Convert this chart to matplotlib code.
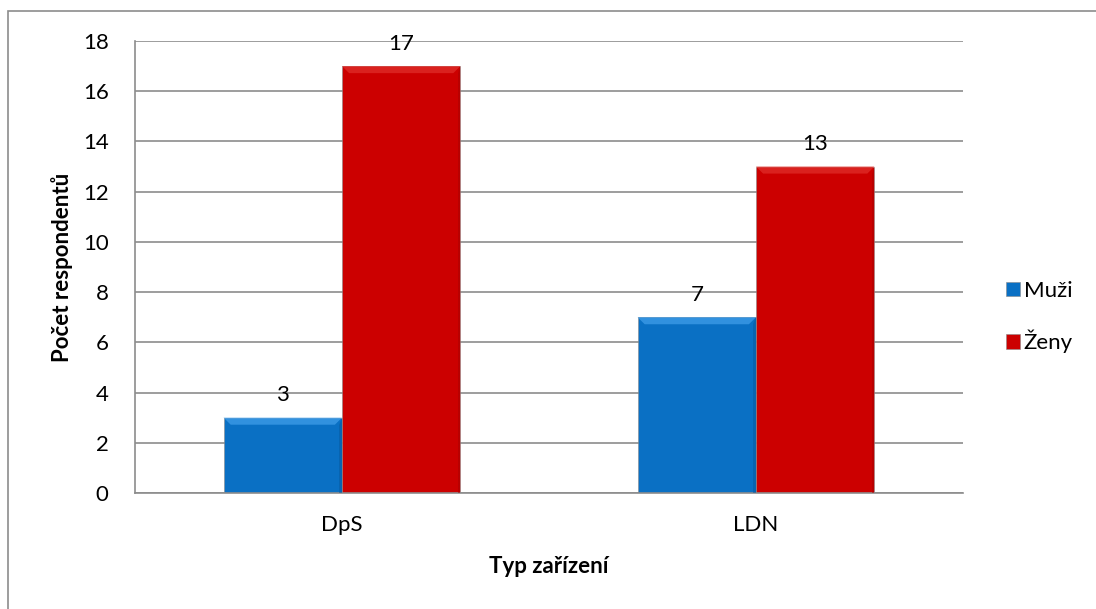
import matplotlib.pyplot as plt
from matplotlib.patches import Rectangle, Polygon
import numpy as np

# data
kategorie = ['DpS', 'LDN']
muzi = [3, 7]
zeny = [17, 13]
serie = ['Muži', 'Ženy']

plt.rcParams['font.family'] = ['Lato', 'DejaVu Sans']
fs = 16

fig = plt.figure(figsize=(10.96, 6.09), dpi=100)
# outer chart frame
fig.patches.append(Rectangle((8 / 1096, -0.05), 1.2, 1 - 11 / 609 + 0.05,
                             transform=fig.transFigure, fill=False,
                             edgecolor='#8c8c8c', linewidth=1.2))

ax = fig.add_axes([135 / 1096, 1 - 493 / 609, (963 - 135) / 1096, (493 - 41) / 609])

x = np.arange(len(kategorie))
w = 0.286
barvy = [('#0a70c4', '#3c9ae6', '#075a9e'), ('#cc0000', '#de2a26', '#a80000')]


def bevel(ax, rect, light, dark):
    # lighter top/left and darker right edges for a soft bevel
    x0, y0 = rect.get_x(), rect.get_y()
    bw, bh = rect.get_width(), rect.get_height()
    dx = bw * 0.06
    dy = 0.28
    x1, y1 = x0 + bw, y0 + bh
    ax.add_patch(Polygon([(x0, y1), (x1, y1), (x1 - dx, y1 - dy), (x0 + dx, y1 - dy)],
                         facecolor=light, edgecolor='none', alpha=0.8, zorder=3))
    ax.add_patch(Polygon([(x1, y1), (x1, y0), (x1 - dx * 0.4, y0), (x1 - dx * 0.4, y1 - dy)],
                         facecolor=dark, edgecolor='none', alpha=0.5, zorder=3))


for vals, off, (c, light, dark), lab in zip([muzi, zeny], [-w / 2, w / 2], barvy, serie):
    bars = ax.bar(x + off, vals, w, color=c, label=lab, zorder=2,
                  edgecolor='#8a8a8a', linewidth=0.4)
    for r, v in zip(bars, vals):
        bevel(ax, r, light, dark)
        ax.text(r.get_x() + r.get_width() / 2, v + 0.5, str(v),
                ha='center', va='bottom', fontsize=fs)

ax.set_xlim(-0.5, 1.5)
ax.set_ylim(0, 18)
ax.set_yticks(range(0, 19, 2))
ax.set_xticks(x)
ax.set_xticklabels(kategorie)
ax.tick_params(length=0, labelsize=fs)
ax.tick_params(axis='x', pad=16)
ax.tick_params(axis='y', pad=19)
ax.grid(axis='y', color='#8c8c8c', linewidth=1.2, zorder=0)
ax.set_axisbelow(True)
for s in ['top', 'right']:
    ax.spines[s].set_visible(False)
for s in ['left', 'bottom']:
    ax.spines[s].set_color('#8c8c8c')
    ax.spines[s].set_linewidth(1.2)

ax.set_ylabel('Počet respondentů', fontsize=fs, fontweight='bold', labelpad=7)
ax.set_xlabel('Typ zařízení', fontsize=fs, fontweight='bold', labelpad=15)

fig.legend(loc='center left', bbox_to_anchor=(986 / 1096, 1 - 317 / 609),
           frameon=False, fontsize=fs, handlelength=0.65, handleheight=0.65,
           handletextpad=0.15, labelspacing=1.3)

fig.savefig('out.png', dpi=100)
